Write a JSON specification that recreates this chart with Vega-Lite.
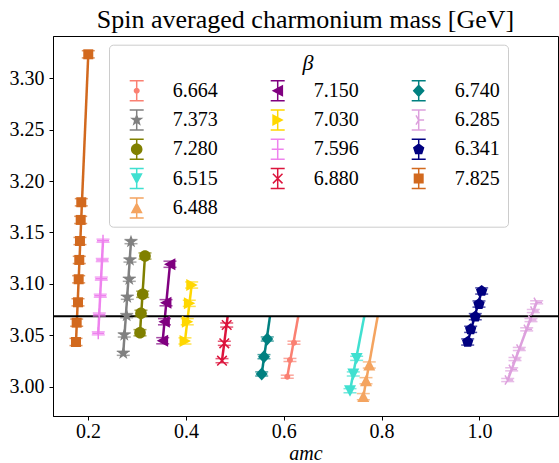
{
  "$schema": "https://vega.github.io/schema/vega-lite/v6.json",
  "width": 505,
  "height": 380,
  "autosize": {"type": "none"},
  "padding": {"left": 53, "top": 36, "right": 1, "bottom": 47},
  "background": "white",
  "title": {"text": "Spin averaged charmonium mass [GeV]", "font": "Liberation Serif", "fontSize": 26, "fontWeight": "normal", "color": "black", "anchor": "middle", "offset": 3},
  "config": {
    "view": {"stroke": "black", "strokeWidth": 1},
    "axis": {"grid": false, "domainColor": "black", "tickColor": "black", "labelColor": "black", "titleColor": "black", "labelFont": "Liberation Serif", "titleFont": "Liberation Serif", "labelFontSize": 20, "tickSize": 4, "domainWidth": 1, "tickWidth": 1}
  },
  "datasets": {
    "pts": [
      {"beta": "7.825", "x": 0.2005, "y": 3.3233, "e": 0.0035},
      {"beta": "7.825", "x": 0.1862, "y": 3.1794, "e": 0.0035},
      {"beta": "7.825", "x": 0.1850, "y": 3.1622, "e": 0.0035},
      {"beta": "7.825", "x": 0.1835, "y": 3.1417, "e": 0.0035},
      {"beta": "7.825", "x": 0.1821, "y": 3.1233, "e": 0.0035},
      {"beta": "7.825", "x": 0.1809, "y": 3.1045, "e": 0.0035},
      {"beta": "7.825", "x": 0.1795, "y": 3.0821, "e": 0.0035},
      {"beta": "7.825", "x": 0.1768, "y": 3.0623, "e": 0.0035},
      {"beta": "7.825", "x": 0.1754, "y": 3.0435, "e": 0.0035},
      {"beta": "7.596", "x": 0.2306, "y": 3.1420, "e": 0.0015},
      {"beta": "7.596", "x": 0.2291, "y": 3.1232, "e": 0.0015},
      {"beta": "7.596", "x": 0.2271, "y": 3.1051, "e": 0.0015},
      {"beta": "7.596", "x": 0.2250, "y": 3.0885, "e": 0.0015},
      {"beta": "7.596", "x": 0.2230, "y": 3.0702, "e": 0.0015},
      {"beta": "7.596", "x": 0.2209, "y": 3.0519, "e": 0.0015},
      {"beta": "7.373", "x": 0.2878, "y": 3.1411, "e": 0.002},
      {"beta": "7.373", "x": 0.2857, "y": 3.1232, "e": 0.002},
      {"beta": "7.373", "x": 0.2843, "y": 3.1045, "e": 0.002},
      {"beta": "7.373", "x": 0.2802, "y": 3.0870, "e": 0.002},
      {"beta": "7.373", "x": 0.2790, "y": 3.0691, "e": 0.002},
      {"beta": "7.373", "x": 0.2741, "y": 3.0503, "e": 0.002},
      {"beta": "7.373", "x": 0.2720, "y": 3.0325, "e": 0.002},
      {"beta": "7.280", "x": 0.3164, "y": 3.1271, "e": 0.003},
      {"beta": "7.280", "x": 0.3117, "y": 3.0899, "e": 0.003},
      {"beta": "7.280", "x": 0.3082, "y": 3.0714, "e": 0.003},
      {"beta": "7.280", "x": 0.3062, "y": 3.0525, "e": 0.003},
      {"beta": "7.150", "x": 0.3675, "y": 3.1191, "e": 0.003},
      {"beta": "7.150", "x": 0.3594, "y": 3.0817, "e": 0.003},
      {"beta": "7.150", "x": 0.3562, "y": 3.0632, "e": 0.003},
      {"beta": "7.150", "x": 0.3526, "y": 3.0447, "e": 0.003},
      {"beta": "7.030", "x": 0.4118, "y": 3.0989, "e": 0.003},
      {"beta": "7.030", "x": 0.4069, "y": 3.0811, "e": 0.003},
      {"beta": "7.030", "x": 0.4028, "y": 3.0632, "e": 0.003},
      {"beta": "7.030", "x": 0.3981, "y": 3.0445, "e": 0.003},
      {"beta": "6.880", "x": 0.4834, "y": 3.0600, "e": 0.002},
      {"beta": "6.880", "x": 0.4785, "y": 3.0422, "e": 0.002},
      {"beta": "6.880", "x": 0.4738, "y": 3.0253, "e": 0.002},
      {"beta": "6.740", "x": 0.5663, "y": 3.0464, "e": 0.002},
      {"beta": "6.740", "x": 0.5596, "y": 3.0292, "e": 0.002},
      {"beta": "6.740", "x": 0.5549, "y": 3.0124, "e": 0.002},
      {"beta": "6.664", "x": 0.6209, "y": 3.0428, "e": 0.0015},
      {"beta": "6.664", "x": 0.6127, "y": 3.0260, "e": 0.0015},
      {"beta": "6.664", "x": 0.6072, "y": 3.0097, "e": 0.0015},
      {"beta": "6.515", "x": 0.7490, "y": 3.0276, "e": 0.002},
      {"beta": "6.515", "x": 0.7421, "y": 3.0124, "e": 0.002},
      {"beta": "6.515", "x": 0.7354, "y": 2.9961, "e": 0.002},
      {"beta": "6.488", "x": 0.7748, "y": 3.0211, "e": 0.003},
      {"beta": "6.488", "x": 0.7681, "y": 3.0058, "e": 0.003},
      {"beta": "6.488", "x": 0.7626, "y": 2.9903, "e": 0.003},
      {"beta": "6.341", "x": 1.0045, "y": 3.0931, "e": 0.003},
      {"beta": "6.341", "x": 0.9990, "y": 3.0804, "e": 0.003},
      {"beta": "6.341", "x": 0.9914, "y": 3.0681, "e": 0.003},
      {"beta": "6.341", "x": 0.9820, "y": 3.0558, "e": 0.003},
      {"beta": "6.341", "x": 0.9759, "y": 3.0435, "e": 0.003},
      {"beta": "6.285", "x": 1.1169, "y": 3.0821, "e": 0.0015},
      {"beta": "6.285", "x": 1.1100, "y": 3.0736, "e": 0.0015},
      {"beta": "6.285", "x": 1.1053, "y": 3.0648, "e": 0.0015},
      {"beta": "6.285", "x": 1.0965, "y": 3.0558, "e": 0.0015},
      {"beta": "6.285", "x": 1.0814, "y": 3.0367, "e": 0.0015},
      {"beta": "6.285", "x": 1.0726, "y": 3.0269, "e": 0.0015},
      {"beta": "6.285", "x": 1.0658, "y": 3.0169, "e": 0.0015},
      {"beta": "6.285", "x": 1.0577, "y": 3.0065, "e": 0.0015}
    ],
    "fits": [
      {"beta": "7.825", "x": 0.1754, "y": 3.0435}, {"beta": "7.825", "x": 0.2005, "y": 3.3233},
      {"beta": "7.596", "x": 0.2209, "y": 3.0519}, {"beta": "7.596", "x": 0.2306, "y": 3.1420},
      {"beta": "7.373", "x": 0.2720, "y": 3.0325}, {"beta": "7.373", "x": 0.2878, "y": 3.1411},
      {"beta": "7.280", "x": 0.3062, "y": 3.0525}, {"beta": "7.280", "x": 0.3164, "y": 3.1271},
      {"beta": "7.150", "x": 0.3526, "y": 3.0447}, {"beta": "7.150", "x": 0.3675, "y": 3.1191},
      {"beta": "7.030", "x": 0.3981, "y": 3.0445}, {"beta": "7.030", "x": 0.4118, "y": 3.0989},
      {"beta": "6.880", "x": 0.4738, "y": 3.0253}, {"beta": "6.880", "x": 0.4854, "y": 3.0686},
      {"beta": "6.740", "x": 0.5549, "y": 3.0124}, {"beta": "6.740", "x": 0.5719, "y": 3.0686},
      {"beta": "6.664", "x": 0.6072, "y": 3.0097}, {"beta": "6.664", "x": 0.6297, "y": 3.0686},
      {"beta": "6.515", "x": 0.7354, "y": 2.9961}, {"beta": "6.515", "x": 0.7646, "y": 3.0686},
      {"beta": "6.488", "x": 0.7626, "y": 2.9903}, {"beta": "6.488", "x": 0.7920, "y": 3.0686},
      {"beta": "6.341", "x": 0.9759, "y": 3.0435}, {"beta": "6.341", "x": 1.0045, "y": 3.0931},
      {"beta": "6.285", "x": 1.0577, "y": 3.0065}, {"beta": "6.285", "x": 1.1169, "y": 3.0821}
    ],
    "ref": [{"m": 3.0686}]
  },
  "layer": [
    {
      "data": {"name": "fits"},
      "mark": {"type": "line", "strokeWidth": 2.5},
      "encoding": {
        "x": {"field": "x", "type": "quantitative", "scale": {"domain": [0.1284, 1.1605], "nice": false, "zero": false}, "axis": {"values": [0.2, 0.4, 0.6, 0.8, 1.0], "format": ".1f", "title": "amc", "titleFontStyle": "italic", "titleFontWeight": "normal", "titleFontSize": 20, "labelPadding": 1, "titlePadding": 2}},
        "y": {"field": "y", "type": "quantitative", "scale": {"domain": [2.9715, 3.3411], "nice": false, "zero": false}, "axis": {"values": [3.0, 3.05, 3.1, 3.15, 3.2, 3.25, 3.3], "format": ".2f", "title": null, "labelPadding": 5}},
        "color": {"field": "beta", "type": "nominal", "legend": null, "scale": {"domain": ["6.664", "7.150", "6.740", "7.373", "7.030", "6.285", "7.280", "7.596", "6.341", "6.515", "6.880", "7.825", "6.488"], "range": ["#fa8072", "#800080", "#008080", "#808080", "#ffd700", "#dda0dd", "#808000", "#ee82ee", "#000080", "#40e0d0", "#dc143c", "#d2691e", "#f4a460"]}}
      }
    },
    {
      "data": {"name": "ref"},
      "mark": {"type": "rule", "color": "black", "strokeWidth": 2},
      "encoding": {"y": {"field": "m", "type": "quantitative"}}
    },
    {
      "data": {"name": "pts"},
      "mark": {"type": "errorbar", "ticks": {"size": 13, "thickness": 1.5}, "rule": {"strokeWidth": 1.5}},
      "encoding": {
        "x": {"field": "x", "type": "quantitative"},
        "y": {"field": "y", "type": "quantitative"},
        "yError": {"field": "e"},
        "color": {"field": "beta", "type": "nominal", "legend": null, "scale": {"domain": ["6.664", "7.150", "6.740", "7.373", "7.030", "6.285", "7.280", "7.596", "6.341", "6.515", "6.880", "7.825", "6.488"], "range": ["#fa8072", "#800080", "#008080", "#808080", "#ffd700", "#dda0dd", "#808000", "#ee82ee", "#000080", "#40e0d0", "#dc143c", "#d2691e", "#f4a460"]}}
      }
    },
    {
      "data": {"name": "pts"},
      "mark": {"type": "point", "filled": true, "size": 400, "opacity": 1, "strokeWidth": 0},
      "encoding": {
        "x": {"field": "x", "type": "quantitative"},
        "y": {"field": "y", "type": "quantitative"},
        "color": {"field": "beta", "type": "nominal", "legend": null, "scale": {"domain": ["6.664", "7.150", "6.740", "7.373", "7.030", "6.285", "7.280", "7.596", "6.341", "6.515", "6.880", "7.825", "6.488"], "range": ["#fa8072", "#800080", "#008080", "#808080", "#ffd700", "#dda0dd", "#808000", "#ee82ee", "#000080", "#40e0d0", "#dc143c", "#d2691e", "#f4a460"]}},
        "shape": {"field": "beta", "type": "nominal", "legend": null, "scale": {"domain": ["6.664", "7.150", "6.740", "7.373", "7.030", "6.285", "7.280", "7.596", "6.341", "6.515", "6.880", "7.825", "6.488"], "range": [
          "M-0.3,0A0.3,0.3,0,1,1,0.3,0A0.3,0.3,0,1,1,-0.3,0Z",
          "M0.54,-0.6L0.54,0.6L-0.6,0Z",
          "M0,-0.65L0.6,0L0,0.65L-0.6,0Z",
          "M0,-0.7L0.165,-0.227L0.666,-0.216L0.266,0.087L0.411,0.566L0,0.28L-0.411,0.566L-0.266,0.087L-0.666,-0.216L-0.165,-0.227Z",
          "M-0.54,0.6L-0.54,-0.6L0.6,0Z",
          "M0,-0.075H0.54V0.075H0Z M0.065,-0.0375L-0.065,0.0375L-0.335,-0.4305L-0.205,-0.5055Z M0.065,0.0375L-0.205,0.5055L-0.335,0.4305L-0.065,-0.0375Z",
          "M-0.58,0A0.58,0.58,0,1,1,0.58,0A0.58,0.58,0,1,1,-0.58,0Z",
          "M-0.6,-0.075H0.6V0.075H-0.6Z M-0.075,-0.6H0.075V0.6H-0.075Z",
          "M0,-0.6L0.571,-0.185L0.353,0.485L-0.353,0.485L-0.571,-0.185Z",
          "M-0.6,-0.54L0.6,-0.54L0,0.6Z",
          "M-0.427,-0.533L0.533,0.427L0.427,0.533L-0.533,-0.427Z M0.427,-0.533L0.533,-0.427L-0.427,0.533L-0.533,0.427Z",
          "M-0.5,-0.5H0.5V0.5H-0.5Z",
          "M0.6,0.54L-0.6,0.54L0,-0.6Z"
        ]}}
      }
    },
    {
      "data": {"name": "pts"},
      "mark": {"type": "point", "filled": true, "opacity": 0},
      "encoding": {
        "x": {"field": "x", "type": "quantitative"},
        "y": {"field": "y", "type": "quantitative"},
        "color": {"field": "beta", "type": "nominal", "scale": {"domain": ["6.664", "7.150", "6.740", "7.373", "7.030", "6.285", "7.280", "7.596", "6.341", "6.515", "6.880", "7.825", "6.488"], "range": ["#fa8072", "#800080", "#008080", "#808080", "#ffd700", "#dda0dd", "#808000", "#ee82ee", "#000080", "#40e0d0", "#dc143c", "#d2691e", "#f4a460"]},
          "legend": {
            "title": "β", "orient": "none", "legendX": 56, "legendY": 8.7, "columns": 3, "direction": "horizontal",
            "symbolSize": 400, "symbolOffset": 9.7, "labelOffset": 26, "columnPadding": 40, "rowPadding": 7.3, "padding": 8,
            "titleAnchor": "middle", "titlePadding": 6, "titleFont": "Liberation Serif", "titleFontSize": 22, "titleFontStyle": "italic", "titleFontWeight": "normal", "titleColor": "black",
            "labelFont": "Liberation Serif", "labelFontSize": 20, "labelColor": "black",
            "strokeColor": "#cccccc", "fillColor": "white", "cornerRadius": 4, "symbolOpacity": 1, "symbolStrokeWidth": 0
          }},
        "shape": {"field": "beta", "type": "nominal", "scale": {"domain": ["6.664", "7.150", "6.740", "7.373", "7.030", "6.285", "7.280", "7.596", "6.341", "6.515", "6.880", "7.825", "6.488"], "range": [
          "M-0.7,-1.075H0.7V-0.925H-0.7Z M-0.7,0.925H0.7V1.075H-0.7Z M-0.075,-1H0.075V1H-0.075Z M-0.3,0A0.3,0.3,0,1,1,0.3,0A0.3,0.3,0,1,1,-0.3,0Z",
          "M-0.7,-1.075H0.7V-0.925H-0.7Z M-0.7,0.925H0.7V1.075H-0.7Z M-0.075,-1H0.075V1H-0.075Z M0.54,-0.6L0.54,0.6L-0.6,0Z",
          "M-0.7,-1.075H0.7V-0.925H-0.7Z M-0.7,0.925H0.7V1.075H-0.7Z M-0.075,-1H0.075V1H-0.075Z M0,-0.65L0.6,0L0,0.65L-0.6,0Z",
          "M-0.7,-1.075H0.7V-0.925H-0.7Z M-0.7,0.925H0.7V1.075H-0.7Z M-0.075,-1H0.075V1H-0.075Z M0,-0.7L0.165,-0.227L0.666,-0.216L0.266,0.087L0.411,0.566L0,0.28L-0.411,0.566L-0.266,0.087L-0.666,-0.216L-0.165,-0.227Z",
          "M-0.7,-1.075H0.7V-0.925H-0.7Z M-0.7,0.925H0.7V1.075H-0.7Z M-0.075,-1H0.075V1H-0.075Z M-0.54,0.6L-0.54,-0.6L0.6,0Z",
          "M-0.7,-1.075H0.7V-0.925H-0.7Z M-0.7,0.925H0.7V1.075H-0.7Z M-0.075,-1H0.075V1H-0.075Z M0,-0.075H0.54V0.075H0Z M0.065,-0.0375L-0.065,0.0375L-0.335,-0.4305L-0.205,-0.5055Z M0.065,0.0375L-0.205,0.5055L-0.335,0.4305L-0.065,-0.0375Z",
          "M-0.7,-1.075H0.7V-0.925H-0.7Z M-0.7,0.925H0.7V1.075H-0.7Z M-0.075,-1H0.075V1H-0.075Z M-0.58,0A0.58,0.58,0,1,1,0.58,0A0.58,0.58,0,1,1,-0.58,0Z",
          "M-0.7,-1.075H0.7V-0.925H-0.7Z M-0.7,0.925H0.7V1.075H-0.7Z M-0.075,-1H0.075V1H-0.075Z M-0.6,-0.075H0.6V0.075H-0.6Z",
          "M-0.7,-1.075H0.7V-0.925H-0.7Z M-0.7,0.925H0.7V1.075H-0.7Z M-0.075,-1H0.075V1H-0.075Z M0,-0.6L0.571,-0.185L0.353,0.485L-0.353,0.485L-0.571,-0.185Z",
          "M-0.7,-1.075H0.7V-0.925H-0.7Z M-0.7,0.925H0.7V1.075H-0.7Z M-0.075,-1H0.075V1H-0.075Z M-0.6,-0.54L0.6,-0.54L0,0.6Z",
          "M-0.7,-1.075H0.7V-0.925H-0.7Z M-0.7,0.925H0.7V1.075H-0.7Z M-0.075,-1H0.075V1H-0.075Z M-0.427,-0.533L0.533,0.427L0.427,0.533L-0.533,-0.427Z M0.427,-0.533L0.533,-0.427L-0.427,0.533L-0.533,0.427Z",
          "M-0.7,-1.075H0.7V-0.925H-0.7Z M-0.7,0.925H0.7V1.075H-0.7Z M-0.075,-1H0.075V1H-0.075Z M-0.5,-0.5H0.5V0.5H-0.5Z",
          "M-0.7,-1.075H0.7V-0.925H-0.7Z M-0.7,0.925H0.7V1.075H-0.7Z M-0.075,-1H0.075V1H-0.075Z M0.6,0.54L-0.6,0.54L0,-0.6Z"
        ]},
          "legend": {
            "title": "β", "orient": "none", "legendX": 56, "legendY": 8.7, "columns": 3, "direction": "horizontal",
            "symbolSize": 400, "symbolOffset": 9.7, "labelOffset": 26, "columnPadding": 40, "rowPadding": 7.3, "padding": 8,
            "titleAnchor": "middle", "titlePadding": 6, "titleFont": "Liberation Serif", "titleFontSize": 22, "titleFontStyle": "italic", "titleFontWeight": "normal", "titleColor": "black",
            "labelFont": "Liberation Serif", "labelFontSize": 20, "labelColor": "black",
            "strokeColor": "#cccccc", "fillColor": "white", "cornerRadius": 4, "symbolOpacity": 1, "symbolStrokeWidth": 0
          }
        }
      }
    }
  ],
  "resolve": {"scale": {"shape": "independent", "color": "independent"}}
}
